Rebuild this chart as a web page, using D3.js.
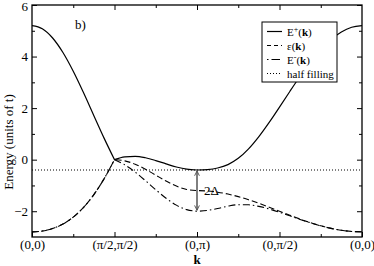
<!DOCTYPE html>
<html>
<head>
<meta charset="utf-8">
<script src="https://cdn.jsdelivr.net/npm/d3@7"></script>
<style>
  body { margin: 0; background: #fff; }
  text { font-family: "Liberation Serif", "Times New Roman", serif; }
</style>
</head>
<body>
<svg id="chart" width="374" height="266"></svg>
<script>
// path coordinate along k (0..4), tick labels at integer points
const kTickLabels = ["(0,0)", "(π/2,π/2)", "(0,π)", "(0,π/2)", "(0,0)"]
const kPos = [0, 0.125, 0.25, 0.375, 0.5, 0.625, 0.75, 0.875,
  1, 1.125, 1.25, 1.375, 1.5, 1.625, 1.75, 1.875,
  2, 2.125, 2.25, 2.375, 2.5, 2.625, 2.75, 2.875,
  3, 3.125, 3.25, 3.375, 3.5, 3.625, 3.75, 3.875, 4]

// upper band E+(k)
const ePlus = [5.2, 5.0775, 4.7198, 4.1555, 3.4284, 2.5927, 1.7065, 0.826,
  0, 0.1104, 0.1304, 0.0741, -0.0343, -0.1644, -0.2852, -0.3697,
  -0.4, -0.3837, -0.3242, -0.1914, 0.0512, 0.4183, 0.8936, 1.4452,
  2.0396, 2.6459, 3.2356, 3.7829, 4.2648, 4.6613, 4.9565, 5.1385, 5.2]

// bare dispersion eps(k)
const epsK = [-2.8, -2.7688, -2.6713, -2.4963, -2.2284, -1.8519, -1.355, -0.7347,
  0, -0.0457, -0.1757, -0.3704, -0.6, -0.8296, -1.0243, -1.1543,
  -1.2, -1.2154, -1.2609, -1.3348, -1.4343, -1.5555, -1.6939, -1.8439,
  -2.0, -2.1561, -2.3061, -2.4445, -2.5657, -2.6652, -2.7391, -2.7846, -2.8]

// lower band E-(k)
const eMinus = [-2.8, -2.7688, -2.6713, -2.4963, -2.2284, -1.8519, -1.355, -0.7347,
  0, -0.2017, -0.4819, -0.8149, -1.1657, -1.4948, -1.7634, -1.939,
  -2.0, -1.9702, -1.8931, -1.8042, -1.7482, -1.7517, -1.8121, -1.9134,
  -2.0396, -2.1777, -2.3171, -2.4495, -2.5677, -2.6658, -2.7392, -2.7846, -2.8]

const halfFilling = -0.4
const gapAt = 2   // (0,pi)
const gapTop = -0.4, gapBottom = -2.0

const yTicks = [-2, 0, 2, 4, 6]

const svg = d3.select("#chart")
const mLeft = 32, mRight = 362, mTop = 5, mBottom = 237

const x = d3.scaleLinear().domain([0, 4]).range([mLeft, mRight])
const y = d3.scaleLinear().domain([-3, 6]).range([mBottom, mTop])

// axes, ticks pointing inwards
const tickSize = 5, minorSize = 3
const xMinor = [0.5, 1.5, 2.5, 3.5]
const yMinor = [-1, 1, 3, 5]

svg.append("g").attr("transform", `translate(0,${mBottom})`)
  .call(d3.axisBottom(x).tickValues([0, 1, 2, 3, 4]).tickFormat((d, i) => kTickLabels[i])
    .tickSizeInner(-tickSize).tickSizeOuter(0).tickPadding(3))
svg.append("g").attr("transform", `translate(0,${mBottom})`)
  .call(d3.axisBottom(x).tickValues(xMinor).tickFormat("").tickSizeInner(-minorSize).tickSizeOuter(0))
svg.append("g").attr("transform", `translate(0,${mTop})`)
  .call(d3.axisTop(x).tickValues([1, 2, 3]).tickFormat("").tickSizeInner(-tickSize).tickSizeOuter(0))
svg.append("g").attr("transform", `translate(0,${mTop})`)
  .call(d3.axisTop(x).tickValues(xMinor).tickFormat("").tickSizeInner(-minorSize).tickSizeOuter(0))

const yAxisG = svg.append("g").attr("transform", `translate(${mLeft},0)`)
  .call(d3.axisLeft(y).tickValues(yTicks).tickFormat(d3.format("d"))
    .tickSizeInner(-tickSize).tickSizeOuter(0).tickPadding(4))
svg.append("g").attr("transform", `translate(${mLeft},0)`)
  .call(d3.axisLeft(y).tickValues(yMinor).tickFormat("").tickSizeInner(-minorSize).tickSizeOuter(0))
svg.append("g").attr("transform", `translate(${mRight},0)`)
  .call(d3.axisRight(y).tickValues(yTicks).tickFormat("").tickSizeInner(-tickSize).tickSizeOuter(0))
svg.append("g").attr("transform", `translate(${mRight},0)`)
  .call(d3.axisRight(y).tickValues(yMinor).tickFormat("").tickSizeInner(-minorSize).tickSizeOuter(0))

svg.selectAll(".domain").remove()
svg.selectAll("g").attr("font-family", "'Liberation Serif', serif")
svg.selectAll(".tick line").attr("stroke", "#000")
svg.selectAll(".tick text").attr("font-size", 13).attr("fill", "#000")
// top label sits right at the frame corner, nudge it so it is not cut
yAxisG.selectAll(".tick text").filter(d => d === 6).attr("dy", "0.42em")

// frame
svg.append("rect")
  .attr("x", mLeft).attr("y", mTop)
  .attr("width", mRight - mLeft).attr("height", mBottom - mTop)
  .attr("fill", "none").attr("stroke", "#000").attr("stroke-width", 1.3)

// curves: each high-symmetry segment drawn on its own so corners stay sharp
const lineGen = d3.line().x(d => x(d[0])).y(d => y(d[1])).curve(d3.curveMonotoneX)
function bandPath(vals) {
  let d = ""
  for (let s = 0; s < 4; s++) {
    const pts = []
    for (let i = s * 8; i <= s * 8 + 8; i++) pts.push([kPos[i], vals[i]])
    let seg = lineGen(pts)
    if (s > 0) seg = "L" + seg.slice(1)
    d += seg
  }
  return d
}

svg.append("clipPath").attr("id", "plotclip")
  .append("rect").attr("x", mLeft).attr("y", mTop).attr("width", mRight - mLeft).attr("height", mBottom - mTop)
const plot = svg.append("g").attr("clip-path", "url(#plotclip)")

plot.append("line")
  .attr("x1", x(0)).attr("x2", x(4))
  .attr("y1", y(halfFilling)).attr("y2", y(halfFilling))
  .attr("stroke", "#000").attr("stroke-width", 1.1).attr("stroke-dasharray", "1,2")

plot.append("path").attr("d", bandPath(eMinus))
  .attr("fill", "none").attr("stroke", "#000").attr("stroke-width", 1.1)
  .attr("stroke-dasharray", "7,3,1.5,3")
plot.append("path").attr("d", bandPath(epsK))
  .attr("fill", "none").attr("stroke", "#000").attr("stroke-width", 1.1)
  .attr("stroke-dasharray", "6,3")
plot.append("path").attr("d", bandPath(ePlus))
  .attr("fill", "none").attr("stroke", "#000").attr("stroke-width", 1.2)

// 2 Delta arrow
const defs = svg.append("defs")
defs.append("marker").attr("id", "arrowhead")
  .attr("viewBox", "0 0 10 10").attr("refX", 9).attr("refY", 5)
  .attr("markerWidth", 6).attr("markerHeight", 6).attr("markerUnits", "userSpaceOnUse")
  .attr("orient", "auto-start-reverse")
  .append("path").attr("d", "M1,1 L9,5 L1,9")
  .attr("fill", "none").attr("stroke", "#555").attr("stroke-width", 1.6)

svg.append("line")
  .attr("x1", x(gapAt)).attr("x2", x(gapAt))
  .attr("y1", y(gapTop) + 1).attr("y2", y(gapBottom) - 1)
  .attr("stroke", "#555").attr("stroke-width", 1.5)
  .attr("marker-start", "url(#arrowhead)").attr("marker-end", "url(#arrowhead)")

svg.append("text")
  .attr("x", x(gapAt) + 7).attr("y", y((gapTop + gapBottom) / 2) + 4)
  .attr("font-size", 13).text("2Δ")

// panel label
svg.append("text").attr("x", 75).attr("y", 29).attr("font-size", 13).text("b)")

// axis titles
svg.append("text")
  .attr("transform", "translate(13,142) rotate(-90)")
  .attr("text-anchor", "middle").attr("font-size", 13)
  .text("Energy (units of t)")
svg.append("text")
  .attr("x", x(2)).attr("y", 264)
  .attr("text-anchor", "middle").attr("font-size", 13).attr("font-weight", "bold")
  .text("k")

// legend
const legendItems = [
  { name: "E", sup: "+", arg: true, dash: null },
  { name: "ε", sup: null, arg: true, dash: "4,3" },
  { name: "E", sup: "-", arg: true, dash: "1.5,3,7,0" },
  { name: "half filling", sup: null, arg: false, dash: "1,2" }
]
const lg = svg.append("g").attr("transform", "translate(262,22)")
lg.append("rect").attr("width", 75).attr("height", 60)
  .attr("fill", "#fff").attr("stroke", "#000").attr("stroke-width", 1)

legendItems.forEach((d, i) => {
  const cy = 9.5 + i * 14
  lg.append("line").attr("x1", 5).attr("x2", 20).attr("y1", cy).attr("y2", cy)
    .attr("stroke", "#000").attr("stroke-width", 1.2)
    .attr("stroke-dasharray", d.dash)
  const t = lg.append("text").attr("x", 25).attr("y", cy + 4).attr("font-size", 11)
  t.append("tspan").text(d.name)
  if (d.sup) t.append("tspan").attr("dy", -4).attr("font-size", 8).text(d.sup)
  if (d.arg) {
    t.append("tspan").attr("dy", d.sup ? 4 : 0).text("(")
    t.append("tspan").attr("font-weight", "bold").text("k")
    t.append("tspan").text(")")
  }
})
</script>
</body>
</html>
